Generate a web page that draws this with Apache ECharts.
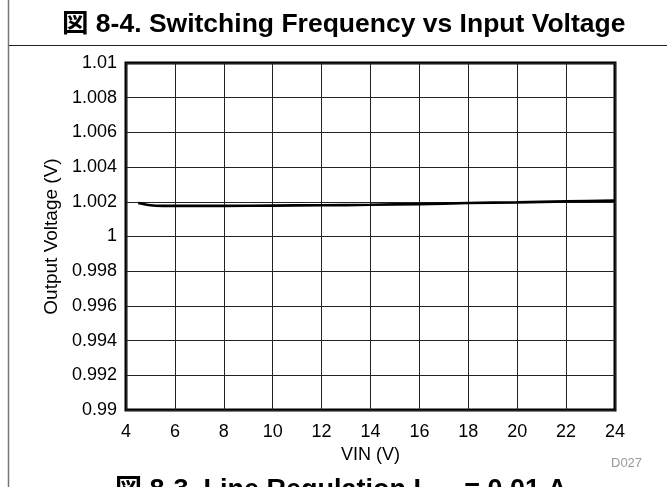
<!DOCTYPE html>
<html>
<head>
<meta charset="utf-8">
<script src="https://cdn.jsdelivr.net/npm/echarts@6/dist/echarts.min.js"></script>
<style>
  html, body { margin: 0; padding: 0; background: #fff; }
  #chart { width: 667px; height: 487px; }
</style>
</head>
<body>
<div id="chart"></div>
<script>
// line regulation, Iout = 0.01 A
const vin = [4.5, 5, 5.5, 6, 8, 10, 12, 14, 16, 18, 20, 22, 24]
const vout = [1.00193, 1.0018, 1.00177, 1.00177, 1.00177, 1.00178, 1.0018, 1.00183, 1.00187, 1.00193, 1.00197, 1.00202, 1.00207]
const xTicks = { min: 4, max: 24, step: 2 }
const yTicks = { min: 0.99, max: 1.01, step: 0.002 }

const font = '"Liberation Sans", Arial, sans-serif'
const cjkFont = '"Liberation Sans", "Noto Sans CJK JP", sans-serif'
const chart = echarts.init(document.getElementById('chart'), null, { renderer: 'canvas' })

chart.setOption({
  backgroundColor: '#fff',
  animation: false,
  title: {
    text: '図 8-4. Switching Frequency vs Input Voltage',
    left: 57,
    top: 6,
    textStyle: { fontFamily: cjkFont, fontSize: 26.5, fontWeight: 'bold', color: '#000' },
  },
  graphic: [
    { type: 'line', shape: { x1: 8.5, y1: 0, x2: 8.5, y2: 487 }, style: { stroke: '#777', lineWidth: 1.5 } },
    { type: 'line', shape: { x1: 9, y1: 45.5, x2: 667, y2: 45.5 }, style: { stroke: '#222', lineWidth: 1 } },
    {
      type: 'text', left: 611, top: 457,
      style: { text: 'D027', fontFamily: font, fontSize: 13, fill: '#999' },
    },
    {
      type: 'text', x: 341, y: 474,
      style: {
        text: '{a|図 8-3. Line Regulation I}{s|OUT}{a| = 0.01 A}',
        align: 'center', verticalAlign: 'top',
        rich: {
          a: { fontFamily: cjkFont, fontSize: 27, fontWeight: 'bold', fill: '#000' },
          s: { fontFamily: font, fontSize: 17, fontWeight: 'bold', fill: '#000', padding: [16, 0, 0, 0] },
        },
      },
    },
  ],
  grid: { left: 126, right: 52, top: 63, bottom: 77, show: true, borderColor: '#000', borderWidth: 3 },
  xAxis: {
    type: 'value',
    min: xTicks.min, max: xTicks.max, interval: xTicks.step,
    name: 'VIN (V)', nameLocation: 'middle', nameGap: 32,
    nameTextStyle: { fontFamily: font, fontSize: 18, color: '#000' },
    axisLine: { show: false },
    axisTick: { show: false },
    axisLabel: { fontFamily: font, fontSize: 18, color: '#000', margin: 13 },
    splitLine: { lineStyle: { color: '#222', width: 1 } },
  },
  yAxis: {
    type: 'value',
    min: yTicks.min, max: yTicks.max, interval: yTicks.step,
    name: 'Output Voltage (V)', nameLocation: 'middle', nameGap: 64,
    nameTextStyle: { fontFamily: font, fontSize: 19, color: '#000' },
    axisLine: { show: false },
    axisTick: { show: false },
    axisLabel: {
      fontFamily: font, fontSize: 18, color: '#000', margin: 9,
      formatter: (v) => String(parseFloat(v.toFixed(3))),
    },
    splitLine: { lineStyle: { color: '#222', width: 1 } },
  },
  series: [
    {
      type: 'line',
      data: vin.map((x, i) => [x, vout[i]]),
      smooth: 0.3,
      symbol: 'none',
      lineStyle: { color: '#000', width: 2.7 },
    },
  ],
})
</script>
</body>
</html>
